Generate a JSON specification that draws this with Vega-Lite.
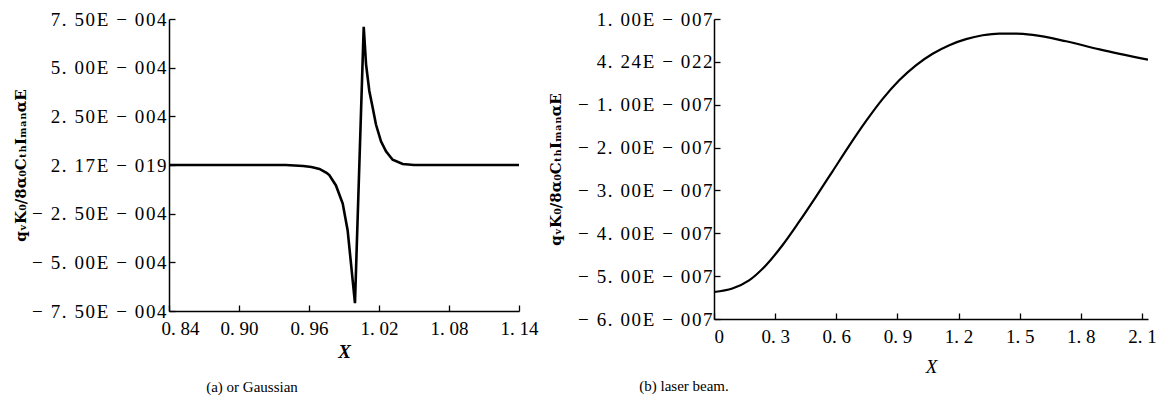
{
  "$schema": "https://vega.github.io/schema/vega-lite/v6.json",
  "padding": {"left": 13, "top": 10, "right": 0, "bottom": 0},
  "spacing": 10,
  "config": {
    "view": {"stroke": null},
    "font": "Liberation Serif",
    "axis": {
      "domainColor": "#000",
      "domainWidth": 1.5,
      "tickColor": "#000",
      "tickWidth": 1.3,
      "grid": false,
      "labelFont": "Liberation Serif",
      "labelFontSize": 19,
      "labelColor": "#000",
      "titleColor": "#000"
    },
    "title": {"font": "Liberation Serif", "fontSize": 15, "fontWeight": "normal", "color": "#000"}
  },
  "datasets": {
    "gauss": [
      {"x": 0.84, "y": 0.0},
      {"x": 0.90, "y": 0.0},
      {"x": 0.94, "y": 0.0},
      {"x": 0.955, "y": -0.000005},
      {"x": 0.962, "y": -0.00001},
      {"x": 0.969, "y": -0.00002},
      {"x": 0.975, "y": -0.00004},
      {"x": 0.9774, "y": -0.000052},
      {"x": 0.9831, "y": -0.000105},
      {"x": 0.9889, "y": -0.000198},
      {"x": 0.9931, "y": -0.000335},
      {"x": 0.996, "y": -0.000507},
      {"x": 0.9994, "y": -0.00071},
      {"x": 1.0069, "y": 0.00071},
      {"x": 1.0089, "y": 0.000517},
      {"x": 1.0117, "y": 0.00038},
      {"x": 1.0146, "y": 0.000294},
      {"x": 1.0174, "y": 0.000208},
      {"x": 1.0217, "y": 0.000122},
      {"x": 1.026, "y": 0.00007},
      {"x": 1.0317, "y": 0.000027},
      {"x": 1.0403, "y": 0.000005},
      {"x": 1.05, "y": 0.0},
      {"x": 1.14, "y": 0.0}
    ],
    "laser": [
      {"x": 0.0, "y": -5.37e-7},
      {"x": 0.09, "y": -5.29e-7},
      {"x": 0.172, "y": -5.10e-7},
      {"x": 0.254, "y": -4.75e-7},
      {"x": 0.336, "y": -4.28e-7},
      {"x": 0.418, "y": -3.73e-7},
      {"x": 0.5, "y": -3.15e-7},
      {"x": 0.581, "y": -2.56e-7},
      {"x": 0.663, "y": -1.96e-7},
      {"x": 0.745, "y": -1.39e-7},
      {"x": 0.827, "y": -0.87e-7},
      {"x": 0.909, "y": -0.43e-7},
      {"x": 0.991, "y": -0.08e-7},
      {"x": 1.073, "y": 0.19e-7},
      {"x": 1.155, "y": 0.39e-7},
      {"x": 1.237, "y": 0.53e-7},
      {"x": 1.319, "y": 0.62e-7},
      {"x": 1.4, "y": 0.66e-7},
      {"x": 1.482, "y": 0.66e-7},
      {"x": 1.564, "y": 0.63e-7},
      {"x": 1.728, "y": 0.48e-7},
      {"x": 1.892, "y": 0.29e-7},
      {"x": 2.13, "y": 0.05e-7}
    ]
  },
  "hconcat": [
    {
      "width": 350,
      "height": 292,
      "data": {"name": "gauss"},
      "title": {"text": "(a) or Gaussian", "orient": "bottom", "frame": "group", "anchor": "start", "align": "center", "dx": 83, "offset": 19},
      "mark": {"type": "line", "color": "#000", "strokeWidth": 2.6, "clip": true},
      "encoding": {
        "x": {
          "field": "x", "type": "quantitative",
          "scale": {"domain": [0.84, 1.14], "nice": false, "zero": false},
          "axis": {
            "values": [0.84, 0.9, 0.96, 1.02, 1.08, 1.14],
            "labelExpr": "substring(format(datum.value, '.2f'), 0, 1) + '. ' + substring(format(datum.value, '.2f'), 2, 4)",
            "labelFlush": false,
            "labelAlign": "center",
            "labelOffset": {"condition": {"test": "datum.value < 0.85", "value": 11}, "value": 0},
            "tickSize": -6,
            "labelPadding": 14,
            "title": "X",
            "titleFont": "Liberation Serif",
            "titleFontSize": 19,
            "titleFontStyle": "italic",
            "titleFontWeight": "bold",
            "titlePadding": 4
          }
        },
        "y": {
          "field": "y", "type": "quantitative",
          "scale": {"domain": [-0.00075, 0.00075], "nice": false},
          "axis": {
            "values": [-0.00075, -0.0005, -0.00025, 0, 0.00025, 0.0005, 0.00075],
            "labelExpr": "replace(datum.value == 0 ? '2. 17E − 019' : (datum.value < 0 ? '− ' : '') + substring(format(abs(datum.value) * 10000, '.2f'), 0, 1) + '. ' + substring(format(abs(datum.value) * 10000, '.2f'), 2, 4) + 'E − 004', regexp('(.)(?=.)', 'g'), '$1\u200A')",
            "tickSize": -6,
            "labelPadding": 9,
            "title": "qᵥK₀/8α₀CₜₕIₘₐₙαE",
            "titleFont": "DejaVu Serif",
            "titleFontSize": 15,
            "titleFontWeight": "bold",
            "titlePadding": 3
          }
        }
      }
    },
    {
      "width": 434,
      "height": 300,
      "data": {"name": "laser"},
      "title": {"text": "(b) laser beam.", "orient": "bottom", "frame": "group", "anchor": "start", "align": "center", "dx": -30, "offset": 3},
      "mark": {"type": "line", "color": "#000", "strokeWidth": 2.2, "interpolate": "monotone", "clip": true},
      "encoding": {
        "x": {
          "field": "x", "type": "quantitative",
          "scale": {"domain": [0, 2.13], "nice": false, "zero": false},
          "axis": {
            "values": [0, 0.3, 0.6, 0.9, 1.2, 1.5, 1.8, 2.1],
            "labelExpr": "datum.value == 0 ? '0' : substring(format(datum.value, '.1f'), 0, 1) + '. ' + substring(format(datum.value, '.1f'), 2, 3)",
            "labelFlush": false,
            "labelAlign": {"condition": {"test": "datum.value < 0.01", "value": "left"}, "value": "center"},
            "tickSize": -6,
            "labelPadding": 14,
            "title": "X",
            "titleFont": "Liberation Serif",
            "titleFontSize": 19,
            "titleFontStyle": "italic",
            "titleFontWeight": "normal",
            "titlePadding": 11
          }
        },
        "y": {
          "field": "y", "type": "quantitative",
          "scale": {"domain": [-6e-7, 1e-7], "nice": false},
          "axis": {
            "values": [-6e-7, -5e-7, -4e-7, -3e-7, -2e-7, -1e-7, 0, 1e-7],
            "labelExpr": "replace(datum.value == 0 ? '4. 24E − 022' : (datum.value < 0 ? '− ' : '') + substring(format(abs(datum.value) * 10000000, '.2f'), 0, 1) + '. ' + substring(format(abs(datum.value) * 10000000, '.2f'), 2, 4) + 'E − 007', regexp('(.)(?=.)', 'g'), '$1\u200A')",
            "tickSize": -6,
            "labelPadding": 8,
            "title": "qᵥK₀/8α₀CₜₕIₘₐₙαE",
            "titleFont": "DejaVu Serif",
            "titleFontSize": 15,
            "titleFontWeight": "bold",
            "titlePadding": 14
          }
        }
      }
    }
  ]
}
